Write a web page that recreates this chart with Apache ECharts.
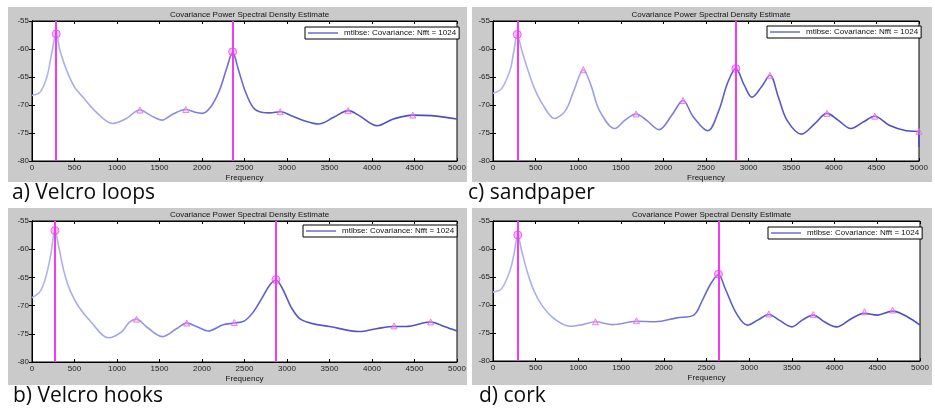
<!DOCTYPE html>
<html>
<head>
<meta charset="utf-8">
<script src="https://cdn.jsdelivr.net/npm/echarts@6/dist/echarts.min.js"></script>
<style>
  html, body { margin: 0; padding: 0; background: #fff; }
  #chart { width: 935px; height: 413px; }
</style>
</head>
<body>
<div id="chart"></div>
<script>
// frequency (Hz) / PSD (dB), one pair per panel
const freqA = [0, 95, 175, 230, 285, 330, 410, 505, 605, 750, 950, 1100, 1270, 1400, 1530, 1650, 1810, 1920, 2000, 2100, 2200, 2290, 2360, 2430, 2510, 2600, 2700, 2800, 2920, 3050, 3200, 3370, 3550, 3720, 3850, 4060, 4250, 4480, 4700, 5000];
const psdA = [-68.3, -67.7, -65.0, -60.9, -57.3, -60.3, -63.9, -66.9, -68.7, -71.2, -73.3, -72.5, -70.9, -71.9, -72.7, -71.7, -70.8, -71.3, -71.5, -70.4, -67.6, -63.5, -60.6, -63.8, -67.6, -70.4, -71.3, -71.4, -71.2, -71.9, -72.8, -73.4, -72.2, -71.0, -71.9, -73.7, -72.5, -71.8, -71.9, -72.5];
const peaksA = [[285, -57.3], [2360, -60.5]];
const minorA = [[1270, -70.9], [1810, -70.8], [2920, -71.2], [3720, -71.0], [4480, -71.8]];
const vlinesA = [285, 2360];

const freqC = [0, 100, 200, 240, 285, 330, 400, 480, 580, 720, 850, 950, 1060, 1150, 1250, 1430, 1550, 1680, 1800, 1950, 2100, 2230, 2350, 2520, 2650, 2750, 2850, 2950, 3040, 3150, 3250, 3350, 3450, 3620, 3780, 3920, 4050, 4200, 4350, 4480, 4650, 4850, 4995, 5000];
const psdC = [-67.9, -67.1, -63.8, -60.8, -57.4, -59.8, -63.3, -66.8, -69.8, -72.4, -71.0, -67.4, -63.7, -66.5, -71.0, -74.2, -72.7, -71.6, -72.7, -74.4, -71.8, -69.2, -72.1, -74.6, -71.0, -66.2, -63.5, -66.5, -68.6, -66.8, -64.7, -68.6, -72.7, -75.2, -73.3, -71.5, -72.7, -74.2, -73.0, -72.0, -73.6, -74.6, -74.8, -77.5];
const peaksC = [[285, -57.4], [2850, -63.5]];
const minorC = [[1060, -63.7], [1680, -71.6], [2230, -69.2], [3250, -64.7], [3920, -71.5], [4480, -72.0], [5000, -74.7]];
const vlinesC = [285, 2850];

const freqB = [0, 100, 170, 220, 270, 320, 380, 450, 550, 700, 900, 1050, 1150, 1230, 1350, 1530, 1700, 1820, 1950, 2070, 2250, 2380, 2500, 2600, 2700, 2800, 2870, 2950, 3050, 3150, 3300, 3500, 3850, 4050, 4260, 4400, 4690, 4850, 5000];
const psdB = [-68.6, -67.4, -64.5, -61.0, -56.7, -60.0, -64.2, -67.4, -70.2, -73.0, -75.7, -74.7, -72.9, -72.4, -73.8, -75.5, -74.1, -73.1, -73.8, -74.5, -73.4, -73.1, -72.7, -71.2, -68.8, -66.3, -65.5, -67.1, -70.3, -72.3, -73.2, -73.7, -74.6, -74.1, -73.7, -73.7, -72.9, -73.7, -74.5];
const peaksB = [[270, -56.7], [2870, -65.4]];
const minorB = [[1230, -72.4], [1820, -73.1], [2380, -73.0], [4260, -73.6], [4690, -72.9]];
const vlinesB = [270, 2870];

const freqD = [0, 100, 200, 245, 290, 335, 400, 480, 580, 720, 900, 1050, 1200, 1400, 1680, 1900, 2150, 2350, 2450, 2550, 2640, 2720, 2850, 2980, 3100, 3230, 3350, 3500, 3620, 3750, 3880, 4020, 4200, 4350, 4500, 4680, 4850, 5000];
const psdD = [-67.7, -67.1, -63.8, -61.0, -57.6, -60.3, -64.0, -67.5, -70.2, -72.5, -73.8, -73.5, -73.0, -73.5, -72.9, -73.0, -72.3, -71.8, -69.2, -66.2, -64.6, -67.1, -71.5, -73.6, -72.7, -71.7, -72.7, -73.9, -72.7, -71.8, -73.0, -73.9, -72.4, -71.5, -71.8, -71.1, -72.1, -73.6];
const peaksD = [[290, -57.5], [2640, -64.5]];
const minorD = [[1200, -73.0], [1680, -72.8], [3230, -71.6], [3750, -71.7], [4350, -71.2], [4680, -70.9]];
const vlinesD = [290, 2640];

const xTicks = [0, 500, 1000, 1500, 2000, 2500, 3000, 3500, 4000, 4500, 5000];
const yTicks = [-80, -75, -70, -65, -60, -55];
const titleText = 'Covariance Power Spectral Density Estimate';
const seriesName = 'mtlbse: Covariance: Nfft = 1024';

const panels = [
  { label: 'a) Velcro loops', freq: freqA, psd: psdA, peaks: peaksA, minor: minorA, vlines: vlinesA,
    box: [8, 7, 459, 175], grid: [32, 21, 425, 140], legend: [305, 27], text: [12, 183] },
  { label: 'c) sandpaper', freq: freqC, psd: psdC, peaks: peaksC, minor: minorC, vlines: vlinesC,
    box: [472, 7, 460, 175], grid: [493, 21, 426, 140], legend: [767, 26], text: [468, 183] },
  { label: 'b) Velcro hooks', freq: freqB, psd: psdB, peaks: peaksB, minor: minorB, vlines: vlinesB,
    box: [8, 208, 459, 177], grid: [32, 221, 425, 141], legend: [303, 225], text: [13, 386] },
  { label: 'd) cork', freq: freqD, psd: psdD, peaks: peaksD, minor: minorD, vlines: vlinesD,
    box: [472, 208, 460, 177], grid: [493, 221, 427, 140], legend: [768, 227], text: [479, 386] }
];

const chart = echarts.init(document.getElementById('chart'));

const tickFont = { fontSize: 8, color: '#222', fontFamily: 'Liberation Sans' };
const grids = [], xAxes = [], yAxes = [], titles = [], legends = [], series = [], graphics = [];

panels.forEach((p, i) => {
  const [gl, gt, gw, gh] = p.grid;
  grids.push({ left: gl, top: gt, width: gw, height: gh, show: true,
    backgroundColor: '#fff', borderColor: '#000', borderWidth: 1 });

  // bottom / top x axes
  xAxes.push({
    type: 'value', gridIndex: i, min: xTicks[0], max: xTicks[xTicks.length - 1], interval: 500,
    axisLine: { lineStyle: { color: '#000' } },
    axisTick: { inside: true, length: 3, lineStyle: { color: '#000' } },
    axisLabel: Object.assign({ margin: 3, formatter: v => String(v) }, tickFont),
    splitLine: { show: false },
    name: 'Frequency', nameLocation: 'middle', nameGap: 13,
    nameTextStyle: { fontSize: 8, color: '#111', fontFamily: 'Liberation Sans' }
  });
  xAxes.push({
    type: 'value', gridIndex: i, position: 'top', min: 0, max: 5000, interval: 500,
    axisLine: { lineStyle: { color: '#000' } },
    axisTick: { inside: true, length: 3, lineStyle: { color: '#000' } },
    axisLabel: { show: false }, splitLine: { show: false }
  });
  // left / right y axes
  yAxes.push({
    type: 'value', gridIndex: i, min: yTicks[0], max: yTicks[yTicks.length - 1], interval: 5,
    axisLine: { show: true, lineStyle: { color: '#000' } },
    axisTick: { show: true, inside: true, length: 3, lineStyle: { color: '#000' } },
    axisLabel: Object.assign({ margin: 3 }, tickFont),
    splitLine: { show: false }
  });
  yAxes.push({
    type: 'value', gridIndex: i, position: 'right', min: -80, max: -55, interval: 5,
    axisLine: { show: true, lineStyle: { color: '#000' } },
    axisTick: { show: true, inside: true, length: 3, lineStyle: { color: '#000' } },
    axisLabel: { show: false }, splitLine: { show: false }
  });

  titles.push({
    text: titleText, left: gl + gw / 2, top: gt - 15, textAlign: 'center',
    textStyle: { fontSize: 8, fontWeight: 'normal', color: '#111', fontFamily: 'Liberation Sans' }
  });

  legends.push({
    data: [seriesName], left: p.legend[0], top: p.legend[1],
    backgroundColor: '#fff', borderColor: '#000', borderWidth: 1, borderRadius: 0,
    padding: [2, 3], icon: 'rect', itemWidth: 30, itemHeight: 1.5, itemGap: 4,
    itemStyle: { color: '#6a6ad8' },
    textStyle: { fontSize: 8, color: '#111', fontFamily: 'Liberation Sans', padding: [0, 0, 0, 1] }
  });

  series.push({
    type: 'line', name: seriesName, xAxisIndex: i * 2, yAxisIndex: i * 2,
    data: p.freq.map((f, k) => [f, p.psd[k]]),
    smooth: 0.35, showSymbol: false, z: 3,
    lineStyle: {
      width: 1.6,
      color: new echarts.graphic.LinearGradient(0, 0, 1, 0, [
        { offset: 0, color: '#b2b9ee' },
        { offset: 0.25, color: '#9a9ee6' },
        { offset: 0.55, color: '#5a5ccc' },
        { offset: 1, color: '#4b4cc0' }
      ])
    },
    markLine: {
      silent: true, symbol: ['none', 'none'], label: { show: false },
      lineStyle: { color: '#f23cf2', width: 2, type: 'solid' },
      data: p.vlines.map(v => ({ xAxis: v }))
    }
  });
  series.push({
    type: 'scatter', xAxisIndex: i * 2, yAxisIndex: i * 2, data: p.peaks, z: 4,
    symbol: 'circle', symbolSize: 8,
    itemStyle: { color: 'rgba(240,120,240,0.55)', borderColor: '#f040f0', borderWidth: 1 }
  });
  series.push({
    type: 'scatter', xAxisIndex: i * 2, yAxisIndex: i * 2, data: p.minor, z: 4,
    symbol: 'triangle', symbolSize: 6,
    itemStyle: { color: 'rgba(250,170,250,0.5)', borderColor: '#f060f0', borderWidth: 1 }
  });

  graphics.push({
    type: 'rect', z: -10, silent: true,
    shape: { x: p.box[0], y: p.box[1], width: p.box[2], height: p.box[3] },
    style: { fill: '#cacaca' }
  });
  graphics.push({
    type: 'text', left: p.text[0], top: p.text[1], silent: true,
    style: { text: p.label, fontSize: 21, fontFamily: 'Open Sans', fill: '#0c0c0c' }
  });
});

chart.setOption({
  animation: false,
  backgroundColor: '#fff',
  title: titles,
  legend: legends,
  grid: grids,
  xAxis: xAxes,
  yAxis: yAxes,
  series: series,
  graphic: graphics
});
</script>
</body>
</html>
